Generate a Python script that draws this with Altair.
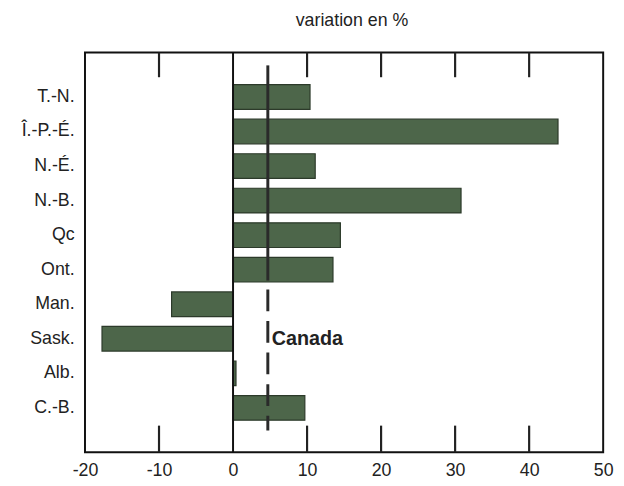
import altair as alt
import pandas as pd

provinces = ["T.-N.", "Î.-P.-É.", "N.-É.", "N.-B.", "Qc", "Ont.", "Man.", "Sask.", "Alb.", "C.-B."]
variation = [10.4, 43.9, 11.1, 30.8, 14.5, 13.5, -8.3, -17.7, 0.4, 9.7]
canada_value = 4.7
canada_label = "Canada"
x_tick_labels = [-20, -10, 0, 10, 20, 30, 40, 50]
inner_ticks = [-10, 10, 20, 30, 40]

FONT = "Liberation Sans"
W, H = 525, 405

df = pd.DataFrame({"prov": provinces, "val": variation})
xscale = alt.Scale(domain=[-20, 50], nice=False, zero=False)
yscale = alt.Scale(domain=provinces, range=[27.5, 377.5], paddingInner=0.286, paddingOuter=0.143)

bars = alt.Chart(df).mark_bar(color="#4d664a", stroke="#2c3a2a", strokeWidth=1.2).encode(
    x=alt.X("val:Q", scale=xscale,
            axis=alt.Axis(values=x_tick_labels, ticks=False, domain=False, grid=False,
                          labelFontSize=18, labelPadding=10, labelColor="#222", labelFont=FONT,
                          labelExpr="'' + datum.value", title=None, labelFlush=False)),
    x2=alt.datum(0),
    y=alt.Y("prov:N", sort=provinces, scale=yscale,
            axis=alt.Axis(title=None, ticks=False, domain=False, labelFontSize=18,
                          labelPadding=11, labelColor="#222", labelFont=FONT)),
)

zero_rule = alt.Chart(pd.DataFrame({"x": [0]})).mark_rule(color="#111", strokeWidth=2).encode(
    x=alt.X("x:Q", scale=xscale), y=alt.value(0), y2=alt.value(H)
)

ticks_df = pd.DataFrame({"t": inner_ticks})
top_ticks = alt.Chart(ticks_df).mark_rule(color="#222", strokeWidth=2.2).encode(
    x=alt.X("t:Q", scale=xscale), y=alt.value(0), y2=alt.value(25)
)
bottom_ticks = alt.Chart(ticks_df).mark_rule(color="#222", strokeWidth=2.2).encode(
    x=alt.X("t:Q", scale=xscale), y=alt.value(H - 27), y2=alt.value(H)
)

canada_df = pd.DataFrame({"x": [canada_value], "label": [canada_label], "prov": ["Sask."]})
canada_solid = alt.Chart(canada_df).mark_rule(color="#2a2a2a", strokeWidth=3).encode(
    x=alt.X("x:Q", scale=xscale), y=alt.value(13), y2=alt.value(231)
)
canada_dashed = alt.Chart(canada_df).mark_rule(color="#2a2a2a", strokeWidth=3, strokeDash=[22, 10]).encode(
    x=alt.X("x:Q", scale=xscale), y=alt.value(240), y2=alt.value(383)
)
canada_text = alt.Chart(canada_df).mark_text(
    align="left", baseline="middle", dx=4, fontSize=20, fontWeight="bold", font=FONT, color="#222"
).encode(
    x=alt.X("x:Q", scale=xscale),
    y=alt.Y("prov:N", sort=provinces, scale=yscale),
    text="label:N",
)

chart = alt.layer(bars, zero_rule, top_ticks, bottom_ticks, canada_solid, canada_dashed, canada_text).properties(
    width=W, height=H,
    title=alt.TitleParams("variation en %", fontSize=18, fontWeight="normal", font=FONT,
                          color="#222", anchor="middle", offset=22, dx=8),
    autosize=alt.AutoSizeParams(type="none"),
    padding={"left": 78, "top": 42, "right": 13, "bottom": 29},
).configure_view(stroke="#111", strokeWidth=2)

chart.save("out.html", embed_options={"renderer": "svg", "actions": False})
